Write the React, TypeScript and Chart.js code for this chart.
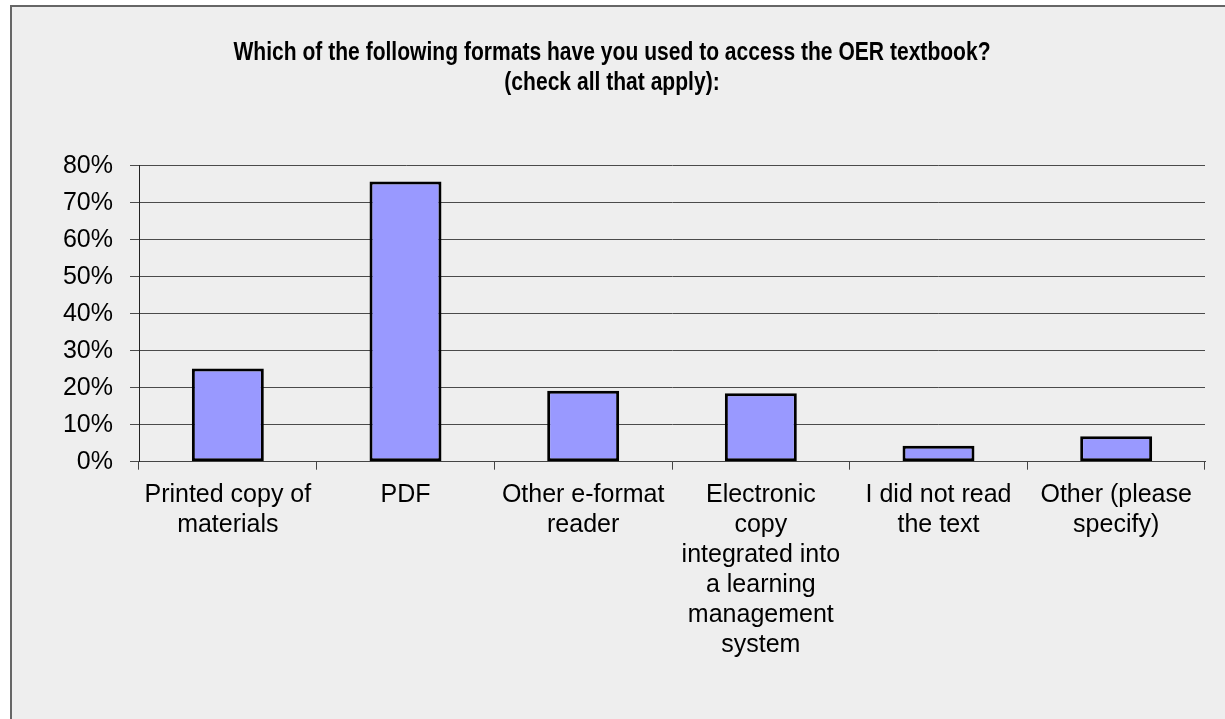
import React, { useEffect, useRef } from "react";
import { Chart, registerables } from "chart.js";

Chart.register(...registerables);

const titleLines: string[] = [
  "Which of the following formats have you used to access the OER textbook?",
  "(check all that apply):",
];

const categories: (string | string[])[] = [
  ["Printed copy of", "materials"],
  "PDF",
  ["Other e-format", "reader"],
  ["Electronic", "copy", "integrated into", "a learning", "management", "system"],
  ["I did not read", "the text"],
  ["Other (please", "specify)"],
];

const percentValues: number[] = [25.2, 75.7, 19.2, 18.5, 4.3, 6.9];

const yTickMin = 0;
const yTickMax = 80;
const yTickStep = 10;

const condensedTitlePlugin = {
  id: "condensedTitle",
  afterDraw(chart: any) {
    const ctx = chart.ctx as CanvasRenderingContext2D;
    ctx.save();
    ctx.fillStyle = "#000000";
    ctx.font = "bold 26px 'Liberation Sans', Arial, sans-serif";
    ctx.textAlign = "center";
    ctx.textBaseline = "alphabetic";
    const cx = 612;
    const sx = 0.81;
    ctx.translate(cx, 0);
    ctx.scale(sx, 1);
    titleLines.forEach((line, i) => {
      ctx.fillText(line, 0, 60 + i * 29.5);
    });
    ctx.restore();
  },
};

export default function App() {
  const canvasRef = useRef<HTMLCanvasElement | null>(null);

  useEffect(() => {
    const canvas = canvasRef.current;
    if (!canvas) return;
    const chart = new Chart(canvas, {
      type: "bar",
      data: {
        labels: categories,
        datasets: [
          {
            data: percentValues,
            backgroundColor: "#9999ff",
            borderColor: "#000000",
            borderWidth: 3,
            borderSkipped: false,
            categoryPercentage: 1,
            barPercentage: 0.405,
          },
        ],
      },
      options: {
        responsive: false,
        animation: false,
        devicePixelRatio: 1,
        layout: { padding: { left: 0, right: 20, top: 165.7, bottom: 0 } },
        plugins: {
          legend: { display: false },
          tooltip: { enabled: false },
          title: { display: false },
        },
        scales: {
          x: {
            grid: {
              drawOnChartArea: false,
              drawTicks: true,
              tickLength: 8,
              color: "#444444",
              offset: true,
            },
            border: { display: true, color: "#444444", width: 1 },
            ticks: {
              color: "#000000",
              maxRotation: 0,
              minRotation: 0,
              autoSkip: false,
              padding: 10,
              font: { family: "'Liberation Sans', Arial, sans-serif", size: 25, lineHeight: 1.2 },
            },
            afterFit: (s: any) => {
              s.height = 719 - 461.7;
            },
          },
          y: {
            min: yTickMin,
            max: yTickMax,
            grid: { color: "#4a4a4a", lineWidth: 1, tickLength: 9, drawTicks: true },
            border: { display: true, color: "#222222", width: 1 },
            ticks: {
              stepSize: yTickStep,
              color: "#000000",
              padding: 17,
              font: { family: "'Liberation Sans', Arial, sans-serif", size: 25, lineHeight: 1.2 },
              callback: (v: any) => `${v}%`,
            },
            afterFit: (s: any) => {
              s.width = 139;
            },
          },
        },
      },
      plugins: [condensedTitlePlugin],
    });
    return () => chart.destroy();
  }, []);

  return (
    <div
      style={{
        position: "fixed",
        left: 0,
        top: 0,
        width: 1225,
        height: 719,
        overflow: "hidden",
        background: "#ffffff",
      }}
    >
      <div
        style={{
          position: "absolute",
          left: 10,
          top: 5,
          width: 1400,
          height: 900,
          border: "2px solid #666666",
          background: "#eeeeee",
        }}
      />
      <canvas
        ref={canvasRef}
        width={1225}
        height={719}
        style={{ position: "absolute", left: 0, top: 0, width: 1225, height: 719 }}
      />
    </div>
  );
}
